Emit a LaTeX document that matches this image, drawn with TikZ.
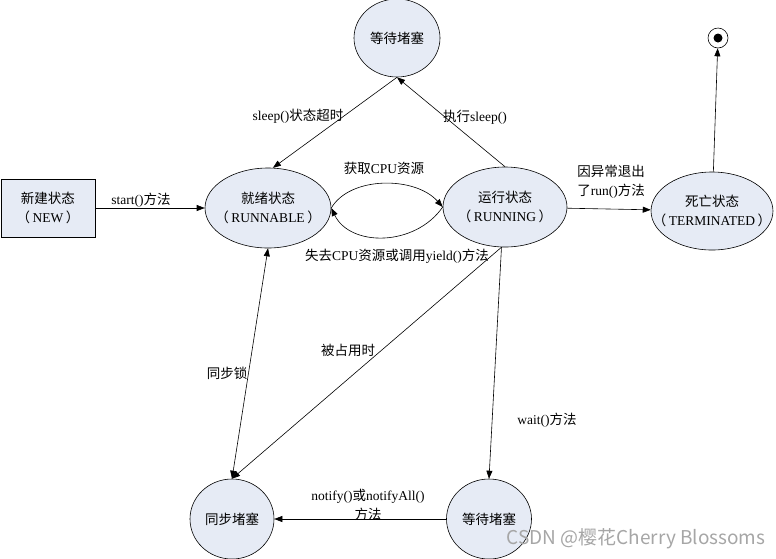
\documentclass[tikz,border=0pt]{standalone}
\usepackage{fontspec}
\setmainfont{Liberation Serif}
\newfontfamily\zhfont{Noto Sans CJK SC}
\usetikzlibrary{arrows.meta, shapes.geometric}
\definecolor{statefill}{HTML}{E6EBF5}
\newcommand{\zh}[1]{{\zhfont #1}}
\newcommand{\paren}[1]{\zh{（}\hspace{2.5pt}#1\hspace{2.5pt}\zh{）}}

\begin{document}
\begin{tikzpicture}[
    x=1pt, y=-1pt,
    >={Triangle[length=8pt,width=6pt]},
    font=\fontsize{13.5}{19}\selectfont,
    state/.style={draw, ellipse, fill=statefill, inner sep=-16pt, align=center, line width=0.6pt},
    arrow/.style={->, line width=0.6pt},
    note/.style={align=center, inner sep=1pt},
]
    \useasboundingbox (0,0) rectangle (776,558);

    % States
    \node[draw, fill=statefill, line width=0.6pt, minimum width=94pt, minimum height=58pt,
          align=center] (new) at (48,208) {\zh{新建状态}\\\paren{NEW}};
    \node[state, minimum width=126pt, minimum height=80pt] (rn) at (268,208)
          {\zh{就绪状态}\\\paren{RUNNABLE}};
    \node[state, minimum width=124pt, minimum height=80pt] (rg) at (505,207)
          {\zh{运行状态}\\\paren{RUNNING}};
    \node[state, minimum width=121pt, minimum height=78pt] (term) at (712,211)
          {\zh{死亡状态}\\\paren{TERMINATED}};
    \node[state, minimum width=86pt, minimum height=78pt] (top) at (397,38) {\zh{等待堵塞}};
    \node[state, minimum width=84pt, minimum height=80pt] (sync) at (232,519) {\zh{同步堵塞}};
    \node[state, minimum width=85pt, minimum height=80pt] (wait) at (489,519) {\zh{等待堵塞}};
    \node[circle, draw, line width=0.6pt, minimum size=20pt, inner sep=0pt,
          path picture={\fill (path picture bounding box.center) circle (4.5pt);}] (fin) at (718,38) {};

    % Transitions
    \draw[arrow] (new) -- (rn);
    \draw[arrow] (top.south) -- (rn.83);
    \draw[arrow] (rg.north) -- (top.south);
    \draw[arrow] (rn.east) .. controls (350,176) and (415,176) .. (rg.west);
    \draw[arrow] (rg.west) .. controls (415,247) and (350,247) .. (rn.east);
    \draw[arrow] (rg) -- (term);
    \draw[arrow] (term) -- (fin);
    \draw[arrow, <->] (rn.south) -- (sync.north);
    \draw[arrow] (rg.265) -- (sync.north);
    \draw[arrow] (rg.265) -- (wait.north);
    \draw[arrow] (wait) -- (sync);

    % Labels
    \node[note] (lstart) at (141,200) {start()\zh{方法}};
    \node[note] (ltimeout) at (298,116) {sleep()\zh{状态超时}};
    \node[note] (lsleep) at (475,117) {\zh{执行}sleep()};
    \node[note] (lget) at (384,168) {\zh{获取}CPU\zh{资源}};
    \node[note] (llose) at (397,256) {\zh{失去}CPU\zh{资源或调用}yield()\zh{方法}};
    \node[note] (lexit) at (611,182) {\zh{因异常退出}\\\zh{了}run()\zh{方法}};
    \node[note] (llock) at (227,373) {\zh{同步锁}};
    \node[note] (lbusy) at (348,350) {\zh{被占用时}};
    \node[note] (lwait) at (547,420) {wait()\zh{方法}};
    \node[note] (lnotify) at (368,505) {notify()\zh{或}notifyAll()\\\zh{方法}};

    \node[font=\zhfont\fontsize{19}{19}\selectfont, text=gray!70] (mark) at (636,539)
          {CSDN @樱花Cherry Blossoms};
\end{tikzpicture}
\end{document}
